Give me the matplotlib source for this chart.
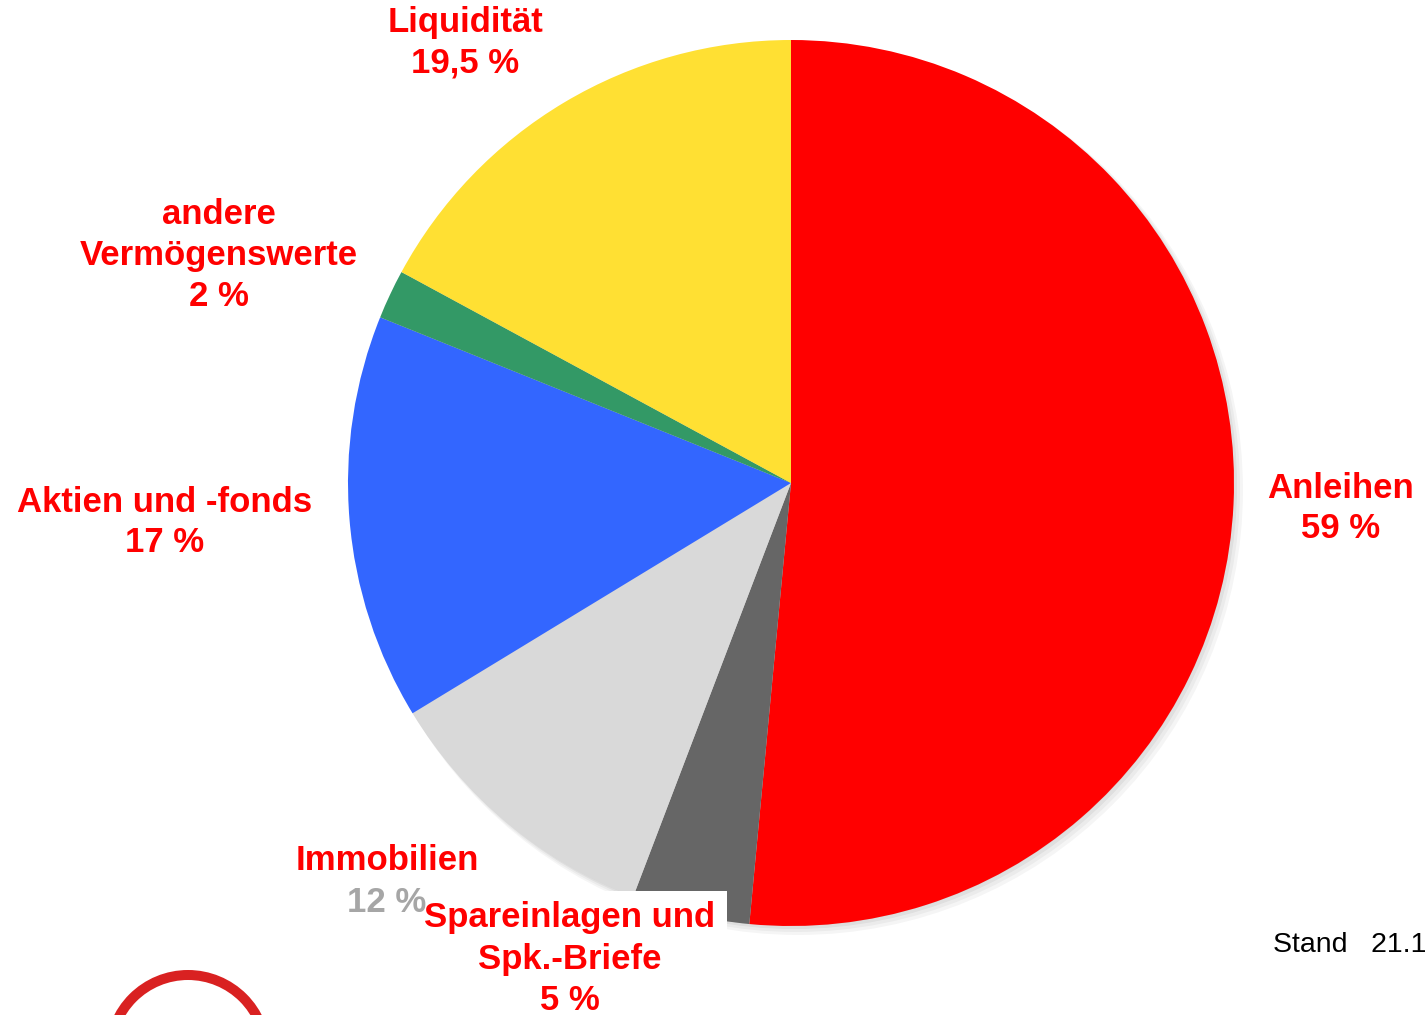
import matplotlib.pyplot as plt
from matplotlib.patches import Circle, Rectangle

plt.rcParams['font.family'] = ['Liberation Sans', 'DejaVu Sans']

W, H = 1426, 1015

# slice sizes as drawn (clockwise from 12 o'clock), labels as printed
categories = ["Anleihen", "Spareinlagen und\nSpk.-Briefe", "Immobilien",
              "Aktien und -fonds", "andere\nVermögenswerte", "Liquidität"]
shares = [51.5, 4.3, 10.5, 14.8, 1.8, 17.1]
label_pct = ["59 %", "5 %", "12 %", "17 %", "2 %", "19,5 %"]
colors = ["#FF0000", "#666666", "#D9D9D9", "#3366FF", "#339966", "#FFE033"]

# label centre positions in pixels (x, y of first line)
label_pos = [(1341, 488), (570, 918), (387, 861), (165, 502), (219, 214), (465, 22)]

fig = plt.figure(figsize=(W / 100, H / 100), dpi=100)
ax = fig.add_axes([0, 0, 1, 1])


def py(y):
    return H - y


cx, cy, r = 791, 483, 443

# soft shadow
for i, a in enumerate([0.04, 0.04, 0.05, 0.06]):
    off = 7 - i * 2
    ax.add_patch(Circle((cx + off, py(cy + off)), r + 2 - i, color="#000000",
                        alpha=a, lw=0, zorder=1))

ax.pie(shares, colors=colors, startangle=90, counterclock=False,
       center=(cx, py(cy)), radius=r, frame=True,
       wedgeprops=dict(linewidth=0, zorder=2))
ax.set_xlim(0, W)
ax.set_ylim(0, H)
ax.set_aspect('equal')
ax.axis('off')

# white box behind the Spareinlagen label
ax.add_patch(Rectangle((422, py(H)), 727 - 422, H - 891, color="white", lw=0, zorder=3))

fs = 25
lh = 41
for cat, pct, (x, y) in zip(categories, label_pct, label_pos):
    lines = cat.split("\n")
    for j, line in enumerate(lines):
        ax.text(x, py(y + j * lh), line, ha="center", va="center", fontsize=fs,
                fontweight="bold", color="#FF0000", zorder=5)
    pc = "#A6A6A6" if cat == "Immobilien" else "#FF0000"
    ax.text(x, py(y + len(lines) * lh), pct, ha="center", va="center", fontsize=fs,
            fontweight="bold", color=pc, zorder=5)

ax.text(1273, py(945), "Stand   21.1", ha="left", va="center", fontsize=20.5,
        color="black", zorder=5)

# logo ring at bottom left
ax.add_patch(Circle((188, py(1053)), 78, fill=False, edgecolor="#D92121",
                    lw=7.2, zorder=5))

fig.savefig("out.png", dpi=100)
